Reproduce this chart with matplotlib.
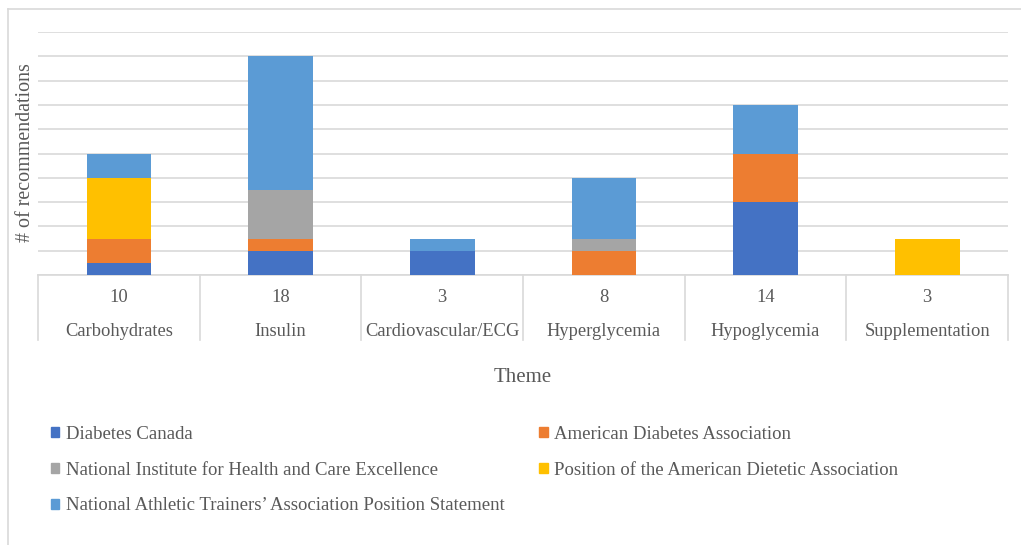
import numpy as np
import matplotlib
matplotlib.use("Agg")
import matplotlib.pyplot as plt
import matplotlib.transforms as mtransforms
from matplotlib.patches import Patch
from matplotlib.lines import Line2D

plt.rcParams['font.family'] = ['Liberation Serif', 'DejaVu Serif']

themes = ["Carbohydrates", "Insulin", "Cardiovascular/ECG", "Hyperglycemia", "Hypoglycemia", "Supplementation"]
totals = ["10", "18", "3", "8", "14", "3"]

series_names = ["Diabetes Canada",
                "American Diabetes Association",
                "National Institute for Health and Care Excellence",
                "Position of the American Dietetic Association",
                "National Athletic Trainers\u2019 Association Position Statement"]
diabetes_canada = [1, 2, 2, 0, 6, 0]
ada = [2, 1, 0, 2, 4, 0]
nice = [0, 4, 0, 1, 0, 0]
dietetic = [5, 0, 0, 0, 0, 3]
nata = [2, 11, 1, 5, 4, 0]
colors = ["#4472C4", "#ED7D31", "#A5A5A5", "#FFC000", "#5B9BD5"]

W, H = 1021, 545
fig = plt.figure(figsize=(W / 100, H / 100), dpi=100)

# outer chart border (top and left only visible)
fig.add_artist(Line2D([8 / W, 8 / W], [0, 1 - 9 / H], color="#D9D9D9", lw=1.2, transform=fig.transFigure))
fig.add_artist(Line2D([8 / W, 1], [1 - 9 / H, 1 - 9 / H], color="#D9D9D9", lw=1.2, transform=fig.transFigure))

ax = fig.add_axes([38 / W, (H - 275) / H, (1008 - 38) / W, (275 - 32) / H])

x = np.arange(len(themes))
bottom = np.zeros(len(themes))
data = [diabetes_canada, ada, nice, dietetic, nata]
for vals, name, c in zip(data, series_names, colors):
    ax.bar(x, vals, 0.4, bottom=bottom, color=c, label=name, zorder=3)
    bottom += np.array(vals)

ax.set_xlim(-0.5, len(themes) - 0.5)
ax.set_ylim(0, 20)
ax.set_yticks(np.arange(0, 21, 2))
ax.set_yticklabels([])
ax.tick_params(axis='y', length=0)
ax.set_xticks([])
ax.grid(axis='y', color="#D9D9D9", lw=1.2, zorder=0)
for s in ["top", "right", "left"]:
    ax.spines[s].set_visible(False)
ax.spines["bottom"].set_color("#D9D9D9")
ax.spines["bottom"].set_linewidth(1.2)

# two-level category table under the axis
trans = mtransforms.blended_transform_factory(ax.transData, ax.transAxes)
for b in np.arange(-0.5, len(themes), 1.0):
    ax.plot([b, b], [0, -65 / 243], color="#D9D9D9", lw=1.2, transform=trans, clip_on=False)
for i in range(len(themes)):
    ax.text(x[i], -23 / 243, totals[i], transform=trans, ha='center', va='center', fontsize=13.3, color="#595959")
    ax.text(x[i], -56 / 243, themes[i], transform=trans, ha='center', va='center', fontsize=13.3, color="#595959")

ax.text(0.5, -102 / 243, "Theme", transform=ax.transAxes, ha='center', va='center', fontsize=15, color="#595959")
fig.text(25 / W, 1 - 153 / H, "# of recommendations", rotation=90, ha='center', va='center', fontsize=14.4, color="#595959")

# legend filled row by row, like the original
order = [0, 2, 4, 1, 3]
handles = [Patch(color=colors[i]) for i in order]
labels = [series_names[i] for i in order]
leg = fig.legend(handles, labels, ncol=2, loc='upper left', bbox_to_anchor=(34 / W, 1 - 409 / H),
                 frameon=False, fontsize=13.5, handlelength=0.45, handleheight=0.45, handletextpad=0.35,
                 columnspacing=1.85, labelspacing=1.0, labelcolor="#595959")

fig.savefig("out.png", dpi=100)
